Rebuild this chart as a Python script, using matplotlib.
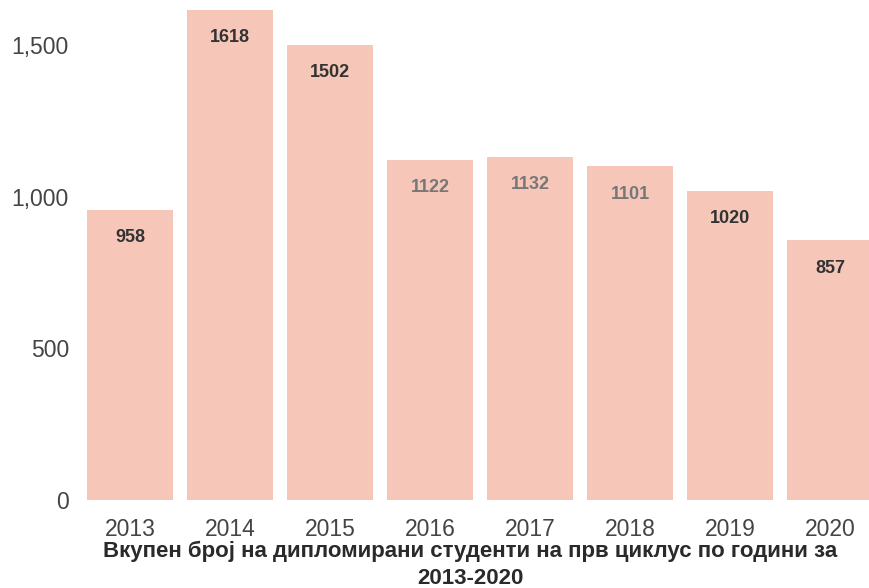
import matplotlib
matplotlib.use("Agg")
import matplotlib.pyplot as plt
from matplotlib.ticker import FuncFormatter

years = ["2013", "2014", "2015", "2016", "2017", "2018", "2019", "2020"]
graduates = [958, 1618, 1502, 1122, 1132, 1101, 1020, 857]
label_colors = ["#333333", "#333333", "#333333", "#777777", "#777777", "#777777", "#333333", "#333333"]
title = "Вкупен број на дипломирани студенти на прв циклус по години за\n2013-2020"

plt.rcParams['font.family'] = ['Liberation Sans', 'DejaVu Sans']

fig = plt.figure(figsize=(8.69, 5.88), dpi=100)
ax = fig.add_axes([80 / 869, 88 / 588, 1 - 80 / 869, 1 - 88 / 588])

x = list(range(len(years)))
bars = ax.bar(x, graduates, width=0.86, color="#f6c7b9")

for xi, v, c in zip(x, graduates, label_colors):
    ax.annotate(str(v), (xi, v), xytext=(0, -20), textcoords="offset points",
                ha="center", va="center", fontsize=13, fontweight="bold", color=c)

ax.set_xlim(-0.5, 7.39)
ax.set_ylim(0, 1650)
ax.set_yticks([0, 500, 1000, 1500])
ax.yaxis.set_major_formatter(FuncFormatter(lambda v, p: f"{int(v):,}"))
ax.set_xticks(x)
ax.set_xticklabels(years)
ax.tick_params(axis="both", length=0, labelcolor="#444444")
ax.tick_params(axis="y", pad=8, labelsize=16.5)
ax.tick_params(axis="x", pad=13, labelsize=16.5)
for s in ax.spines.values():
    s.set_visible(False)

fig.text(470 / 869, 1 - 565 / 588, title, ha="center", va="center",
         fontsize=16, fontweight="bold", color="#2a2a2a", linespacing=1.4)

fig.savefig("out.png", dpi=100)
